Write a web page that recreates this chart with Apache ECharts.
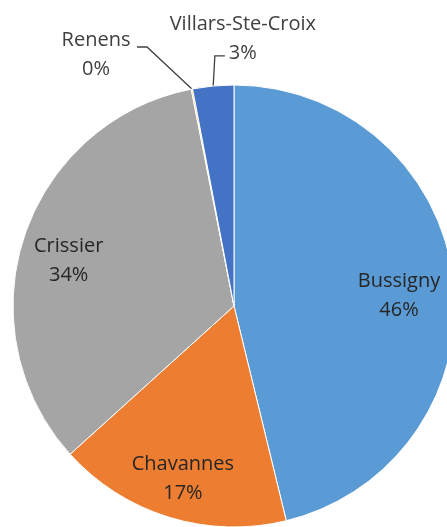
<!DOCTYPE html>
<html>
<head>
<meta charset="utf-8">
<script src="https://cdn.jsdelivr.net/npm/echarts@6/dist/echarts.min.js"></script>
<style>
html,body{margin:0;padding:0;background:#fff;}
#chart{width:447px;height:527px;}
</style>
</head>
<body>
<div id="chart"></div>
<script>
// Data
const categories = ['Bussigny', 'Chavannes', 'Crissier', 'Renens', 'Villars-Ste-Croix'];
const shares = [46.2, 17.1, 33.6, 0.1, 3.0];
const colors = ['#5B9BD5', '#ED7D31', '#A5A5A5', '#FFC000', '#4472C4'];

// Layout / style
const cx = 234, cy = 306, R = 221;
// label placement in polar form: [angle clockwise from top (deg), radius ratio]
const labelPolar = [[86.5, 0.748], [196.5, 0.814], [285.4, 0.776], [331.2, 1.296], [1.9, 1.209]];
const outsideIdx = [3, 4];
// leader line elbow offsets relative to label center: [elbow, end]
const elbowOffsets = {3: [[51, -8], [41, -8]], 4: [[-28, 17], [-18, 17]]};

const total = shares.reduce((a, b) => a + b, 0);
function midAngle(i) {
  let acc = 0;
  for (let j = 0; j < i; j++) acc += shares[j];
  return (acc + shares[i] / 2) / total * 360;
}
function polar(angleDeg, r) {
  const a = angleDeg * Math.PI / 180;
  return [cx + r * Math.sin(a), cy - r * Math.cos(a)];
}

const data = categories.map((name, i) => {
  const item = { name: name, value: shares[i], itemStyle: { color: colors[i] } };
  if (outsideIdx.indexOf(i) >= 0) {
    item.label = { position: 'outside', color: '#404040' };
    item.labelLine = { show: true };
  }
  return item;
});

const chart = echarts.init(document.getElementById('chart'), null, { renderer: 'canvas' });
chart.setOption({
  animation: false,
  series: [{
    type: 'pie',
    center: [cx, cy],
    radius: [0, R],
    startAngle: 90,
    clockwise: true,
    avoidLabelOverlap: false,
    itemStyle: { borderColor: '#ffffff', borderWidth: 1 },
    label: {
      show: true,
      position: 'inside',
      color: '#262626',
      fontFamily: 'Open Sans',
      fontSize: 20,
      fontWeight: 500,
      lineHeight: 29,
      align: 'center',
      formatter: p => p.name + '\n' + Math.round(p.percent) + '%'
    },
    labelLine: {
      show: false,
      length: 20,
      length2: 10,
      lineStyle: { color: '#404040', width: 1.3 }
    },
    emphasis: { disabled: true },
    labelLayout: function (params) {
      const i = params.dataIndex;
      const lp = labelPolar[i];
      const pos = polar(lp[0], lp[1] * R);
      const res = { x: pos[0], y: pos[1], align: 'center', verticalAlign: 'middle', hideOverlap: false };
      if (elbowOffsets[i]) {
        const edge = polar(midAngle(i), R);
        const off = elbowOffsets[i];
        res.labelLinePoints = [
          edge,
          [pos[0] + off[0][0], pos[1] + off[0][1]],
          [pos[0] + off[1][0], pos[1] + off[1][1]]
        ];
      }
      return res;
    },
    data: data
  }]
});
</script>
</body>
</html>
